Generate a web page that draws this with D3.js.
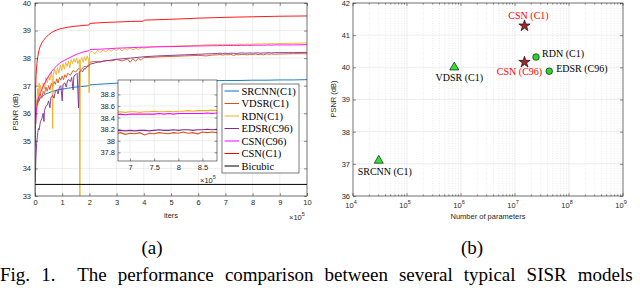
<!DOCTYPE html>
<html>
<head>
<meta charset="utf-8">
<script src="https://cdn.jsdelivr.net/npm/d3@7"></script>
<style>
body { margin: 0; background: #fff; }
svg text { font-family: "Liberation Sans", Arial, sans-serif; }
svg text.serif { font-family: "Liberation Serif", "Times New Roman", serif; }
</style>
</head>
<body>
<svg id="fig" width="640" height="288"></svg>
<script>
// ---- (a) training curves, iters in units of 1e5 ----
var srcnnPts = [[0.02,35.9],[0.04,36.15],[0.07,36.3],[0.1,36.38],[0.15,36.48],[0.2,36.56],[0.25,36.6],[0.3,36.64],[0.4,36.7],[0.5,36.74],[0.6,36.78],[0.7,36.81],[0.8,36.84],[0.9,36.86],[1.0,36.88],[1.1,36.89],[1.2,36.91],[1.3,36.92],[1.4,36.94],[1.5,36.95],[1.6,36.96],[1.7,36.97],[1.8,36.98],[1.9,36.99],[1.98,37.0],[2.02,37.03],[2.3,37.05],[2.6,37.07],[3.0,37.09],[3.4,37.1],[3.8,37.11],[3.98,37.12],[4.02,37.14],[4.5,37.15],[5.0,37.16],[5.5,37.17],[6.0,37.18],[6.5,37.18],[7.0,37.19],[7.5,37.19],[8.0,37.2],[8.5,37.2],[9.0,37.21],[9.5,37.21],[10,37.22]];

var vdsrHead = [[0.03,35.6],[0.05,36.2],[0.08,36.5],[0.1,36.3],[0.13,36.6],[0.16,36.45],[0.2,36.7],[0.25,36.55],[0.3,36.8],[0.35,36.7],[0.4,36.95],[0.45,36.8],[0.5,37.0],[0.55,36.85],[0.6,37.1],[0.65,36.95],[0.7,37.15],[0.75,37.05],[0.8,37.25],[0.85,37.1],[0.9,37.3],[0.95,37.2],[1.0,37.35],[1.05,37.22],[1.1,37.4],[1.15,37.3],[1.2,37.45],[1.3,37.38],[1.4,37.55],[1.5,37.5],[1.6,37.62],[1.7,37.58],[1.8,37.7],[1.9,37.68],[1.98,37.78],[2.02,37.85],[2.2,37.88],[2.4,37.86],[2.6,37.92],[2.8,37.9],[3.0,37.95],[3.2,37.9],[3.4,37.97],[3.5,37.85],[3.6,37.98],[3.7,37.88],[3.8,38.0],[3.9,37.92],[4.0,38.02],[4.3,38.03],[4.6,38.05],[5,38.06],[5.5,38.08],[6,38.1],[6.3,38.08],[6.5,38.11]];
var vdsrTail = [[9,38.15],[9.5,38.16],[10,38.16]];

var rdnHead = [[0.02,35.8],[0.04,36.3],[0.06,36.0],[0.08,36.6],[0.1,36.9],[0.12,36.5],[0.15,37.1],[0.18,36.7],[0.2,37.0],[0.25,36.8],[0.3,37.1],[0.35,36.9],[0.4,37.3],[0.45,37.1],[0.5,37.35],[0.55,37.2],[0.6,37.5],[0.63,37.3],[0.65,35.45],[0.67,37.4],[0.72,37.6],[0.78,37.4],[0.83,37.65],[0.88,37.45],[0.93,37.75],[0.98,37.55],[1.03,37.8],[1.08,37.6],[1.13,37.85],[1.18,37.7],[1.23,37.9],[1.28,37.65],[1.33,37.95],[1.38,37.8],[1.43,37.98],[1.48,37.85],[1.53,38.0],[1.58,37.8],[1.63,37.95],[1.65,32.8],[1.67,37.9],[1.72,38.02],[1.77,37.85],[1.82,38.05],[1.87,37.9],[1.92,38.08],[1.97,37.95],[1.99,36.75],[2.01,38.2],[2.1,38.25],[2.2,38.15],[2.3,38.28],[2.4,38.2],[2.5,38.3],[2.6,38.22],[2.7,38.32],[2.8,38.25],[2.9,38.33],[3.0,38.28],[3.1,38.35],[3.2,38.26],[3.3,38.34],[3.4,38.3],[3.5,38.37],[3.6,38.3],[3.7,38.36],[3.8,38.32],[3.9,38.38],[4.0,38.36],[4.2,38.4],[4.5,38.42],[5,38.43],[5.5,38.45],[6,38.46],[6.2,38.48],[6.5,38.49]];
var rdnTail = [[9,38.53],[9.5,38.54],[10,38.55]];

var edsrHead = [[0.01,33.5],[0.03,34.3],[0.06,34.9],[0.1,35.3],[0.13,35.45],[0.15,35.4],[0.2,35.7],[0.25,35.8],[0.3,36.0],[0.33,35.7],[0.35,36.1],[0.4,36.25],[0.45,36.3],[0.5,36.45],[0.55,36.2],[0.58,36.55],[0.65,36.65],[0.7,36.55],[0.75,36.8],[0.8,36.85],[0.85,36.7],[0.9,36.95],[0.95,37.0],[1.0,36.45],[1.03,37.05],[1.1,37.1],[1.15,36.95],[1.2,37.2],[1.25,37.22],[1.3,37.15],[1.35,37.3],[1.4,36.85],[1.43,37.35],[1.5,37.4],[1.55,37.45],[1.6,36.2],[1.63,37.5],[1.7,37.55],[1.75,37.5],[1.8,37.62],[1.85,37.6],[1.9,37.68],[1.98,37.72],[2.02,37.78],[2.3,37.85],[2.6,37.9],[3.0,37.96],[3.5,38.0],[4.0,38.05],[4.5,38.08],[5,38.1],[5.5,38.12],[6,38.14],[6.5,38.16]];
var edsrTail = [[9,38.2],[9.5,38.2],[10,38.21]];

var csn96Head = [[0,34.8],[0.02,35.6],[0.05,36.1],[0.1,36.45],[0.15,36.62],[0.2,36.75],[0.3,36.97],[0.4,37.18],[0.5,37.35],[0.6,37.5],[0.7,37.62],[0.8,37.73],[0.9,37.81],[1.0,37.88],[1.1,37.93],[1.2,37.98],[1.4,38.08],[1.6,38.17],[1.8,38.23],[1.98,38.27],[2.02,38.31],[2.5,38.33],[3,38.36],[3.5,38.38],[4,38.4],[5,38.42],[6,38.44],[6.5,38.45]];
var csn96Tail = [[9,38.48],[9.5,38.48],[10,38.49]];

var csn1Pts = [[0,33.0],[0.01,35.8],[0.02,36.8],[0.04,37.4],[0.07,37.8],[0.1,38.05],[0.15,38.3],[0.2,38.45],[0.25,38.55],[0.3,38.63],[0.4,38.75],[0.5,38.85],[0.6,38.92],[0.7,38.98],[0.8,39.02],[0.9,39.06],[1.0,39.08],[1.2,39.12],[1.4,39.15],[1.6,39.17],[1.8,39.19],[1.98,39.2],[2.02,39.26],[2.5,39.29],[3.0,39.31],[3.5,39.33],[3.98,39.34],[4.02,39.38],[5,39.41],[6,39.45],[7,39.48],[8,39.5],[9,39.52],[10,39.53]];

var bicubicPts = [[0,33.42],[10,33.42]];

// the stretch shown in the inset, sampled closer
var insetIters = [6.7,6.8,6.9,7.0,7.1,7.2,7.3,7.4,7.5,7.6,7.7,7.8,7.9,8.0,8.1,8.2,8.3,8.4,8.5,8.6,8.7,8.8];
var vdsrDense  = [38.12,38.14,38.11,38.13,38.12,38.14,38.10,38.13,38.12,38.14,38.13,38.12,38.14,38.13,38.15,38.13,38.14,38.12,38.15,38.14,38.15,38.14];
var rdnDense   = [38.49,38.50,38.49,38.50,38.50,38.49,38.50,38.50,38.51,38.50,38.50,38.51,38.50,38.51,38.51,38.52,38.51,38.52,38.52,38.52,38.53,38.52];
var edsrDense  = [38.17,38.18,38.17,38.18,38.17,38.18,38.18,38.17,38.18,38.19,38.18,38.18,38.19,38.18,38.19,38.19,38.18,38.19,38.19,38.20,38.19,38.20];
var csn96Dense = [38.45,38.46,38.45,38.46,38.46,38.46,38.46,38.46,38.46,38.47,38.46,38.47,38.46,38.47,38.47,38.47,38.47,38.47,38.47,38.48,38.47,38.48];

var curveNames = ["SRCNN(C1)", "VDSR(C1)", "RDN(C1)", "EDSR(C96)", "CSN(C96)", "CSN(C1)", "Bicubic"];
var curveColors = ["#0072BD", "#D95319", "#EDB120", "#7E2F8E", "#FF00FF", "#FF0000", "#000000"];

// ---- (b) PSNR vs number of parameters ----
var modelNames = ["SRCNN (C1)", "VDSR (C1)", "RDN (C1)", "EDSR (C96)", "CSN (C96)", "CSN (C1)"];
var modelParams = [3.0e4, 7.5e5, 2.45e7, 4.3e7, 1.5e7, 1.5e7];
var modelPsnr = [37.1, 40.0, 40.32, 39.88, 40.16, 41.29];
var modelMarker = ["triangle", "triangle", "circle", "circle", "star", "star"];

var xTicksA = [0,1,2,3,4,5,6,7,8,9,10];
var yTicksA = [33,34,35,36,37,38,39,40];
var xTicksInset = [7,7.5,8,8.5];
var yTicksInset = [37.8,38,38.2,38.4,38.6,38.8];
var yTicksB = [36,37,38,39,40,41,42];
var decadesB = [4,5,6,7,8,9];


function joinPts(head, dense, tail) {
    var mid = insetIters.map(function(t, i){ return [t, dense[i]]; });
    return head.concat(mid).concat(tail);
}

var curves = [srcnnPts, joinPts(vdsrHead, vdsrDense, vdsrTail), joinPts(rdnHead, rdnDense, rdnTail),
              joinPts(edsrHead, edsrDense, edsrTail), joinPts(csn96Head, csn96Dense, csn96Tail), csn1Pts, bicubicPts];

var AX = "#262626";
var GRID = "#e3e3e3";
var svg = d3.select("#fig");

// ticks pointing inwards, labels only on one side
function styleAxis(g) {
    g.select(".domain").remove();
    g.selectAll(".tick line").attr("stroke", AX).attr("stroke-width", 0.5);
    g.selectAll(".tick text").attr("fill", AX).style("font-size", "7.5px");
}
function shortNum(d) { return String(+d.toFixed(1)); }

// ================= (a) =================
var xA = d3.scaleLinear().domain([0, 10]).range([35, 307]);
var yA = d3.scaleLinear().domain([33, 40]).range([196, 3]);

var gA = svg.append("g");
gA.append("rect").attr("x", 35).attr("y", 3).attr("width", 272).attr("height", 193).attr("fill", "#fff");

gA.selectAll(".gx").data(xTicksA).enter().append("line")
    .attr("x1", xA).attr("x2", xA).attr("y1", 3).attr("y2", 196).attr("stroke", GRID).attr("stroke-width", 0.6);
gA.selectAll(".gy").data(yTicksA).enter().append("line")
    .attr("y1", yA).attr("y2", yA).attr("x1", 35).attr("x2", 307).attr("stroke", GRID).attr("stroke-width", 0.6);

svg.append("clipPath").attr("id", "clipA").append("rect").attr("x", 35).attr("y", 3).attr("width", 272).attr("height", 193);

var lineA = d3.line().x(function(d){ return xA(d[0]); }).y(function(d){ return yA(d[1]); });
gA.append("g").attr("clip-path", "url(#clipA)").selectAll("path").data(curves).enter().append("path")
    .attr("d", lineA).attr("fill", "none")
    .attr("stroke", function(d, i){ return curveColors[i]; })
    .attr("stroke-width", function(d, i){ return i == 6 ? 1 : 0.9; });

gA.append("g").attr("transform", "translate(0,196)")
    .call(d3.axisBottom(xA).tickValues(xTicksA).tickSize(-3).tickPadding(4).tickFormat(d3.format("d"))).call(styleAxis);
gA.append("g").attr("transform", "translate(0,3)")
    .call(d3.axisTop(xA).tickValues(xTicksA).tickSize(-3).tickFormat("")).call(styleAxis);
gA.append("g").attr("transform", "translate(35,0)")
    .call(d3.axisLeft(yA).tickValues(yTicksA).tickSize(-3).tickPadding(4).tickFormat(d3.format("d"))).call(styleAxis);
gA.append("g").attr("transform", "translate(307,0)")
    .call(d3.axisRight(yA).tickValues(yTicksA).tickSize(-3).tickFormat("")).call(styleAxis);
gA.append("rect").attr("x", 35).attr("y", 3).attr("width", 272).attr("height", 193)
    .attr("fill", "none").attr("stroke", AX).attr("stroke-width", 0.6);

gA.append("text").attr("x", 171).attr("y", 218).attr("text-anchor", "middle")
    .attr("fill", AX).style("font-size", "7.5px").text("iters");
gA.append("text").attr("transform", "translate(18,112) rotate(-90)").attr("text-anchor", "middle")
    .attr("fill", AX).style("font-size", "7.5px").text("PSNR (dB)");
var expA = gA.append("text").attr("x", 289).attr("y", 220).attr("fill", AX).style("font-size", "7.5px");
expA.append("tspan").text("\u00d710");
expA.append("tspan").attr("dy", -4).style("font-size", "5.5px").text("5");

// ---- inset ----
var xI = d3.scaleLinear().domain([6.75, 8.8]).range([118, 217]);
var yI = d3.scaleLinear().domain([37.65, 39.05]).range([161, 80]);
var gI = svg.append("g");
gI.append("rect").attr("x", 118).attr("y", 80).attr("width", 99).attr("height", 81).attr("fill", "#fff");
gI.selectAll(".gx").data(xTicksInset).enter().append("line")
    .attr("x1", xI).attr("x2", xI).attr("y1", 80).attr("y2", 161).attr("stroke", GRID).attr("stroke-width", 0.6);
gI.selectAll(".gy").data(yTicksInset).enter().append("line")
    .attr("y1", yI).attr("y2", yI).attr("x1", 118).attr("x2", 217).attr("stroke", GRID).attr("stroke-width", 0.6);

svg.append("clipPath").attr("id", "clipI").append("rect").attr("x", 118).attr("y", 80).attr("width", 99).attr("height", 81);
var lineI = d3.line().x(function(d){ return xI(d[0]); }).y(function(d){ return yI(d[1]); });
gI.append("g").attr("clip-path", "url(#clipI)").selectAll("path").data(curves).enter().append("path")
    .attr("d", lineI).attr("fill", "none")
    .attr("stroke", function(d, i){ return curveColors[i]; }).attr("stroke-width", 1.1);

gI.append("g").attr("transform", "translate(0,161)")
    .call(d3.axisBottom(xI).tickValues(xTicksInset).tickSize(-2.5).tickPadding(4).tickFormat(shortNum)).call(styleAxis);
gI.append("g").attr("transform", "translate(0,80)")
    .call(d3.axisTop(xI).tickValues(xTicksInset).tickSize(-2.5).tickFormat("")).call(styleAxis);
gI.append("g").attr("transform", "translate(118,0)")
    .call(d3.axisLeft(yI).tickValues(yTicksInset).tickSize(-2.5).tickPadding(3).tickFormat(shortNum)).call(styleAxis);
gI.append("g").attr("transform", "translate(217,0)")
    .call(d3.axisRight(yI).tickValues(yTicksInset).tickSize(-2.5).tickFormat("")).call(styleAxis);
gI.append("rect").attr("x", 118).attr("y", 80).attr("width", 99).attr("height", 81)
    .attr("fill", "none").attr("stroke", AX).attr("stroke-width", 0.6);
var expI = gI.append("text").attr("x", 200).attr("y", 183).attr("fill", AX).style("font-size", "7.5px");
expI.append("tspan").text("\u00d710");
expI.append("tspan").attr("dy", -4).style("font-size", "5.5px").text("5");

// ---- legend ----
var gL = svg.append("g");
gL.append("rect").attr("x", 222).attr("y", 84).attr("width", 77).attr("height", 89)
    .attr("fill", "#fff").attr("stroke", AX).attr("stroke-width", 0.6);
var rows = gL.selectAll(".row").data(curveNames).enter().append("g")
    .attr("transform", function(d, i){ return "translate(0," + (91 + i * 12.5) + ")"; });
rows.append("line").attr("x1", 224.5).attr("x2", 239).attr("stroke-width", 1)
    .attr("stroke", function(d, i){ return curveColors[i]; });
rows.append("text").attr("class", "serif").attr("x", 241.5).attr("y", 3.6)
    .style("font-size", "10.5px").attr("fill", "#000").text(function(d){ return d; });

// ================= (b) =================
var xB = d3.scaleLog().domain([1e4, 1e9]).range([353, 623]);
var yB = d3.scaleLinear().domain([36, 42]).range([196, 3]);
var gB = svg.append("g");

var minorB = [];
decadesB.slice(0, -1).forEach(function(e){
    for (var k = 2; k <= 9; k++) minorB.push(k * Math.pow(10, e));
});
var majorB = decadesB.map(function(e){ return Math.pow(10, e); });

gB.selectAll(".mg").data(minorB).enter().append("line")
    .attr("x1", xB).attr("x2", xB).attr("y1", 3).attr("y2", 196)
    .attr("stroke", "#d6d6d6").attr("stroke-width", 0.5).attr("stroke-dasharray", "1,1.5");
gB.selectAll(".gx").data(majorB).enter().append("line")
    .attr("x1", xB).attr("x2", xB).attr("y1", 3).attr("y2", 196).attr("stroke", GRID).attr("stroke-width", 0.6);
gB.selectAll(".gy").data(yTicksB).enter().append("line")
    .attr("y1", yB).attr("y2", yB).attr("x1", 353).attr("x2", 623).attr("stroke", GRID).attr("stroke-width", 0.6);

// major + minor ticks, top and bottom
[196, 3].forEach(function(yy){
    var dir = yy == 196 ? -1 : 1;
    gB.selectAll(null).data(majorB).enter().append("line")
        .attr("x1", xB).attr("x2", xB).attr("y1", yy).attr("y2", yy + dir * 3).attr("stroke", AX).attr("stroke-width", 0.5);
    gB.selectAll(null).data(minorB).enter().append("line")
        .attr("x1", xB).attr("x2", xB).attr("y1", yy).attr("y2", yy + dir * 1.6).attr("stroke", AX).attr("stroke-width", 0.5);
});
var lab = gB.selectAll(".xl").data(decadesB).enter().append("text")
    .attr("x", function(e){ return xB(Math.pow(10, e)) - 2; }).attr("y", 208)
    .attr("text-anchor", "middle").attr("fill", AX).style("font-size", "7.5px");
lab.append("tspan").text("10");
lab.append("tspan").attr("dy", -4).style("font-size", "5.5px").text(function(e){ return e; });

gB.append("g").attr("transform", "translate(353,0)")
    .call(d3.axisLeft(yB).tickValues(yTicksB).tickSize(-3).tickPadding(3).tickFormat(d3.format("d"))).call(styleAxis);
gB.append("g").attr("transform", "translate(623,0)")
    .call(d3.axisRight(yB).tickValues(yTicksB).tickSize(-3).tickFormat("")).call(styleAxis);
gB.append("rect").attr("x", 353).attr("y", 3).attr("width", 270).attr("height", 193)
    .attr("fill", "none").attr("stroke", AX).attr("stroke-width", 0.6);

gB.append("text").attr("x", 488).attr("y", 219).attr("text-anchor", "middle")
    .attr("fill", AX).style("font-size", "7.5px").text("Number of parameters");
gB.append("text").attr("transform", "translate(336,99) rotate(-90)").attr("text-anchor", "middle")
    .attr("fill", AX).style("font-size", "7.5px").text("PSNR (dB)");

var symType = {triangle: d3.symbolTriangle, circle: d3.symbolCircle, star: d3.symbolStar};
var symSize = {triangle: 36, circle: 34, star: 40};
var symFill = {triangle: "#33e033", circle: "#2bd62b", star: "#a3262a"};
// label placement: [dx, dy, anchor]
var labelPlace = [[6, 14, "middle"], [5, 14, "middle"], [6, 0, "start"], [7, 1, "start"], [-5, 13, "middle"], [4, -7, "middle"]];

var pts = gB.selectAll(".pt").data(modelNames).enter().append("g")
    .attr("transform", function(d, i){ return "translate(" + xB(modelParams[i]) + "," + yB(modelPsnr[i]) + ")"; });
pts.append("path")
    .attr("d", function(d, i){ return d3.symbol().type(symType[modelMarker[i]]).size(symSize[modelMarker[i]])(); })
    .attr("fill", function(d, i){ return symFill[modelMarker[i]]; })
    .attr("stroke", "#000").attr("stroke-width", 0.6);
pts.append("text").attr("class", "serif").style("font-size", "10px")
    .attr("x", function(d, i){ return labelPlace[i][0]; })
    .attr("y", function(d, i){ return labelPlace[i][1]; })
    .attr("text-anchor", function(d, i){ return labelPlace[i][2]; })
    .attr("fill", function(d, i){ return modelMarker[i] == "star" ? "#ff0000" : "#000"; })
    .text(function(d){ return d; });

// ================= captions =================
svg.append("text").attr("class", "serif").attr("x", 152).attr("y", 254).attr("text-anchor", "middle")
    .style("font-size", "19px").text("(a)");
svg.append("text").attr("class", "serif").attr("x", 472).attr("y", 254).attr("text-anchor", "middle")
    .style("font-size", "19px").text("(b)");
var cap = svg.append("text").attr("class", "serif").attr("x", 0).attr("y", 281)
    .style("font-size", "19px").style("white-space", "pre")
    .text("Fig. 1.  The performance comparison between several typical SISR models");
// justify like the paper column
var capLen = cap.node().getComputedTextLength();
var gaps = 11;
if (capLen < 639) cap.attr("word-spacing", ((639 - capLen) / gaps) + "px");
</script>
</body>
</html>
